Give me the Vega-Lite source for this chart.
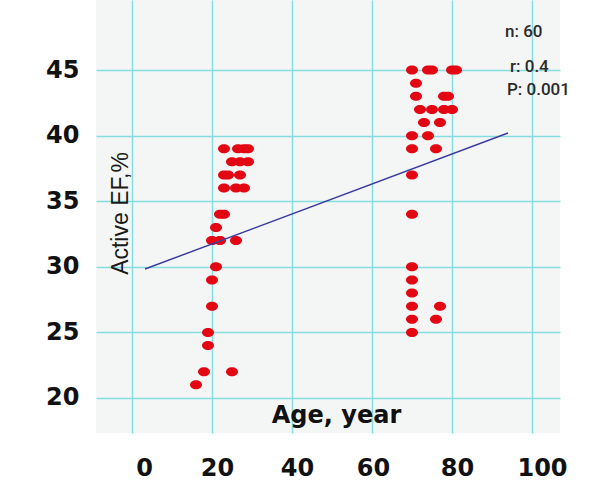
{
  "$schema": "https://vega.github.io/schema/vega-lite/v6.json",
  "width": 464,
  "height": 433,
  "autosize": "none",
  "padding": {"left": 96, "top": 0, "right": 47, "bottom": 52},
  "background": "white",
  "config": {
    "view": {"fill": "#f4f6f6", "stroke": null}
  },
  "data": {
    "values": [
      {"age": 23, "ef": 39}, {"age": 26.5, "ef": 39}, {"age": 28, "ef": 39}, {"age": 29, "ef": 39},
      {"age": 25, "ef": 38}, {"age": 27, "ef": 38}, {"age": 29, "ef": 38},
      {"age": 23, "ef": 37}, {"age": 24, "ef": 37}, {"age": 27, "ef": 37},
      {"age": 23, "ef": 36}, {"age": 26, "ef": 36}, {"age": 28, "ef": 36},
      {"age": 22, "ef": 34}, {"age": 23, "ef": 34},
      {"age": 21, "ef": 33},
      {"age": 20, "ef": 32}, {"age": 22, "ef": 32}, {"age": 26, "ef": 32},
      {"age": 21, "ef": 30},
      {"age": 20, "ef": 29},
      {"age": 20, "ef": 27},
      {"age": 19, "ef": 25},
      {"age": 19, "ef": 24},
      {"age": 18, "ef": 22}, {"age": 25, "ef": 22},
      {"age": 16, "ef": 21},
      {"age": 70, "ef": 45}, {"age": 74, "ef": 45}, {"age": 75, "ef": 45}, {"age": 80, "ef": 45}, {"age": 81, "ef": 45},
      {"age": 71, "ef": 44},
      {"age": 71, "ef": 43}, {"age": 78, "ef": 43}, {"age": 79, "ef": 43},
      {"age": 72, "ef": 42}, {"age": 75, "ef": 42}, {"age": 78, "ef": 42}, {"age": 80, "ef": 42},
      {"age": 73, "ef": 41}, {"age": 77, "ef": 41},
      {"age": 70, "ef": 40}, {"age": 74, "ef": 40},
      {"age": 70, "ef": 39}, {"age": 76, "ef": 39},
      {"age": 70, "ef": 37},
      {"age": 70, "ef": 34},
      {"age": 70, "ef": 30},
      {"age": 70, "ef": 29},
      {"age": 70, "ef": 28},
      {"age": 70, "ef": 27}, {"age": 77, "ef": 27},
      {"age": 70, "ef": 26}, {"age": 76, "ef": 26},
      {"age": 70, "ef": 25}
    ]
  },
  "encoding": {
    "x": {
      "field": "age", "type": "quantitative",
      "scale": {"domain": [-9, 107], "nice": false, "zero": false},
      "axis": {
        "values": [0, 20, 40, 60, 80, 100],
        "grid": true, "gridColor": "#86dde0", "gridWidth": 1.5,
        "domain": false, "ticks": false,
        "labelFont": "DejaVu Sans", "labelFontWeight": "bold", "labelFontSize": 24, "labelColor": "#111111",
        "labelPadding": 23,
        "labelOffset": {"condition": [{"test": "datum.value == 0", "value": 12}, {"test": "datum.value == 60", "value": 1}, {"test": "datum.value == 100", "value": 10}], "value": 5},
        "title": "Age, year",
        "titleFont": "DejaVu Sans", "titleFontWeight": "bold", "titleFontSize": 24, "titleColor": "#111111",
        "titleX": 240, "titleY": -18, "titleBaseline": "middle", "titleAlign": "center", "titleAnchor": null
      }
    },
    "y": {
      "field": "ef", "type": "quantitative",
      "scale": {"domain": [17.33, 50.34], "nice": false, "zero": false},
      "axis": {
        "values": [20, 25, 30, 35, 40, 45],
        "grid": true, "gridColor": "#86dde0", "gridWidth": 1.5,
        "domain": false, "ticks": false,
        "labelFont": "DejaVu Sans", "labelFontWeight": "bold", "labelFontSize": 24, "labelColor": "#111111",
        "labelPadding": 17,
        "title": "Active EF,%",
        "titleFont": "Liberation Sans", "titleFontWeight": "normal", "titleFontSize": 23, "titleColor": "#1a1a1a",
        "titleAngle": -90, "titleX": 24, "titleY": 213, "titleBaseline": "middle", "titleAlign": "center", "titleAnchor": null
      }
    }
  },
  "layer": [
    {
      "mark": {"type": "point", "filled": true, "opacity": 1, "color": "#e30613", "shape": "M-1,0A1,0.75 0 1,0 1,0A1,0.75 0 1,0 -1,0Z", "size": 144}
    },
    {
      "data": {"values": [{"age": 3.25, "ef": 29.83}, {"age": 94, "ef": 40.2}]},
      "mark": {"type": "line", "color": "#3d3d9e", "strokeWidth": 1.5}
    },
    {
      "data": {"values": [
        {"age": 93.25, "ef": 47.9, "label": "n: 60"},
        {"age": 94.5, "ef": 45.23, "label": "r: 0.4"},
        {"age": 93.75, "ef": 43.48, "label": "P: 0.001"}
      ]},
      "mark": {"type": "text", "align": "left", "baseline": "middle", "font": "Roboto", "fontWeight": 500, "fontSize": 17, "color": "#2a2a2a"},
      "encoding": {"text": {"field": "label", "type": "nominal"}}
    }
  ]
}
